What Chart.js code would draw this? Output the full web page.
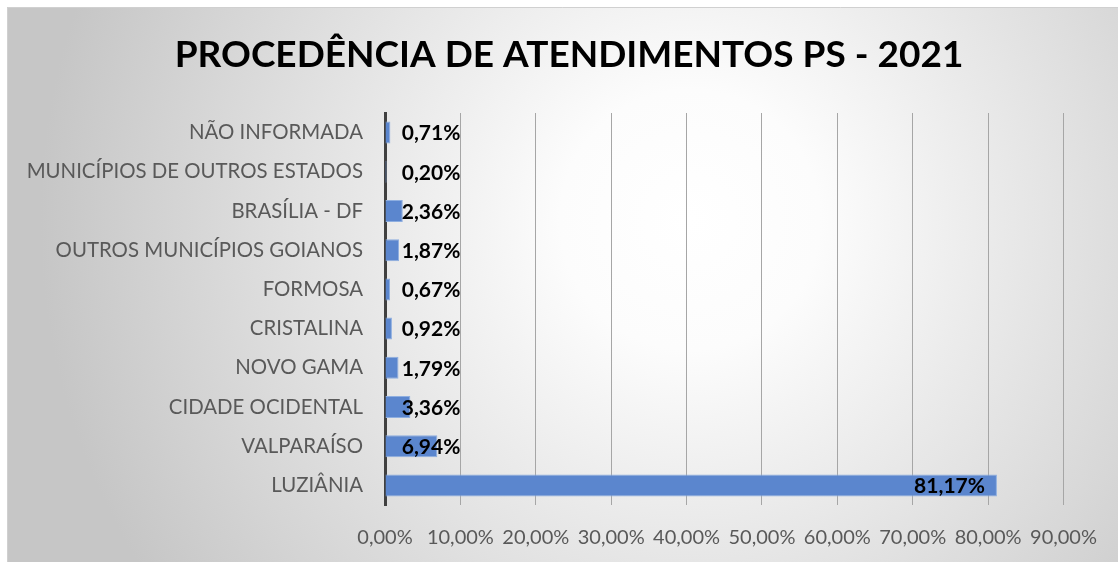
<!DOCTYPE html>
<html>
<head>
<meta charset="utf-8">
<script src="https://cdn.jsdelivr.net/npm/chart.js@4.4.1/dist/chart.umd.min.js"></script>
<style>
html,body{margin:0;padding:0;background:#fff;}
#wrap{width:1118px;height:562px;position:relative;}
</style>
</head>
<body>
<div id="wrap"><canvas id="c"></canvas></div>
<script>
const categories = ["NÃO INFORMADA","MUNICÍPIOS DE OUTROS ESTADOS","BRASÍLIA - DF","OUTROS MUNICÍPIOS GOIANOS","FORMOSA","CRISTALINA","NOVO GAMA","CIDADE OCIDENTAL","VALPARAÍSO","LUZIÂNIA"];
const values = [0.71,0.20,2.36,1.87,0.67,0.92,1.79,3.36,6.94,81.17];
const tickValues = [0,10,20,30,40,50,60,70,80,90];
const titleText = "PROCEDÊNCIA DE ATENDIMENTOS PS - 2021";

function fmt(v){ return v.toFixed(2).replace('.', ',') + '%'; }

const bgPlugin = {
  id:'bg',
  beforeDraw(chart){
    const ctx = chart.ctx;
    ctx.save();
    ctx.fillStyle = '#ffffff';
    ctx.fillRect(0,0,chart.width,chart.height);
    const g = ctx.createRadialGradient(690,220,0,690,220,650);
    g.addColorStop(0,'#ffffff');
    g.addColorStop(0.2,'#fcfcfc');
    g.addColorStop(1,'#c6c6c6');
    ctx.fillStyle = g;
    ctx.fillRect(7,7,1111,555);
    ctx.strokeStyle = '#d0d0d0';
    ctx.lineWidth = 1;
    ctx.beginPath();
    ctx.moveTo(7.5,562); ctx.lineTo(7.5,7.5); ctx.lineTo(1118,7.5);
    ctx.stroke();
    // title
    ctx.font = 'bold 37px Lato';
    ctx.fillStyle = '#000000';
    ctx.textAlign = 'center';
    ctx.textBaseline = 'middle';
    ctx.fillText(titleText, 569, 55);
    ctx.restore();
  }
};

const labelPlugin = {
  id:'vlabels',
  afterDatasetsDraw(chart){
    const ctx = chart.ctx;
    const meta = chart.getDatasetMeta(0);
    const xs = chart.scales.x;
    ctx.save();
    ctx.font = 'bold 21px Lato';
    ctx.fillStyle = '#000000';
    ctx.textBaseline = 'middle';
    ctx.textAlign = 'right';
    meta.data.forEach((bar,i)=>{
      const v = values[i];
      const txt = fmt(v);
      let x;
      if (v > 10) { x = bar.x - 12; }
      else { x = xs.getPixelForValue(10); }
      ctx.fillText(txt, x, bar.y + 1);
    });
    ctx.restore();
  }
};

new Chart(document.getElementById('c'), {
  type:'bar',
  data:{
    labels: categories,
    datasets:[{
      data: values,
      backgroundColor:'#5b86ce',
      borderColor:'#8eaee0',
      borderWidth:1,
      barPercentage:0.56,
      categoryPercentage:1
    }]
  },
  options:{
    indexAxis:'y',
    responsive:true,
    maintainAspectRatio:false,
    animation:false,
    layout:{padding:{left:0,right:54,top:113,bottom:0}},
    plugins:{
      legend:{display:false},
      tooltip:{enabled:false},
      title:{display:false}
    },
    scales:{
      x:{
        min:0,max:90,
        afterBuildTicks(s){ s.ticks = tickValues.map(v=>({value:v})); },
        afterFit(s){ s.height = 57; },
        ticks:{
          color:'#595959',
          font:{family:'Lato',size:20},
          padding:21,
          maxRotation:0,
          callback:(v)=>fmt(v)
        },
        grid:{color:'#a6a6a6',lineWidth:1,drawTicks:false},
        border:{display:false}
      },
      y:{
        afterFit(s){ s.width = 385; },
        ticks:{
          color:'#595959',
          font:{family:'Lato',size:20.4},
          padding:22
        },
        grid:{display:false,drawTicks:false},
        border:{display:true,color:'#404040',width:3}
      }
    }
  },
  plugins:[bgPlugin,labelPlugin]
});
</script>
</body>
</html>
